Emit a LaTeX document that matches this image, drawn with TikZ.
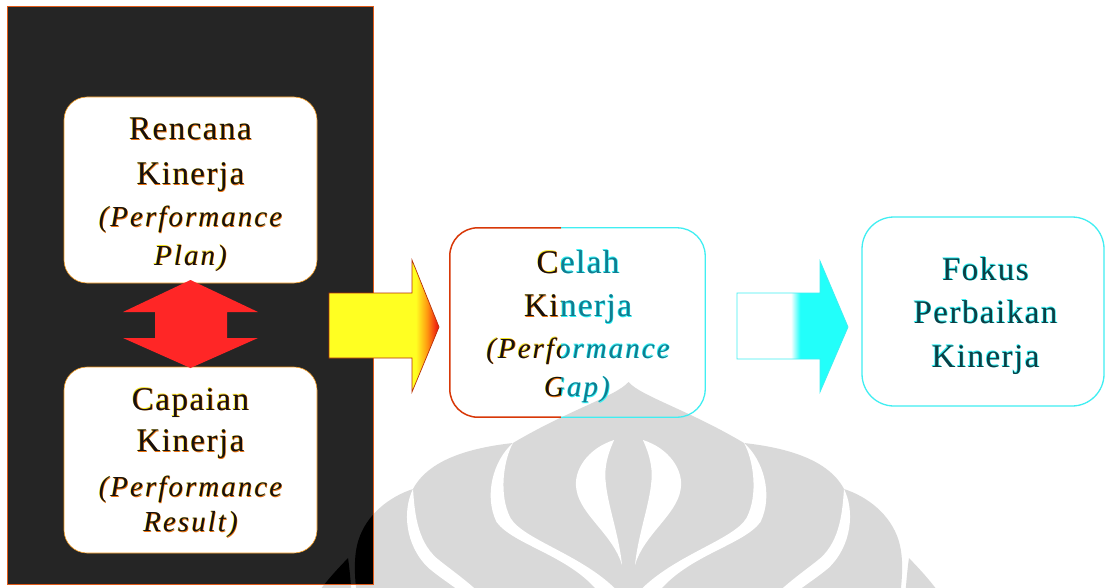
\documentclass[tikz,border=0pt]{standalone}
\usepackage{fontspec}
\setmainfont{Liberation Serif}
\newfontfamily\rmls[LetterSpace=4.5]{Liberation Serif}
\newfontfamily\itls[LetterSpace=7]{Liberation Serif}

% colours
\definecolor{panelgray}{HTML}{252525}
\definecolor{panelrim}{HTML}{E05A18}
\definecolor{boxrim}{HTML}{F0961A}
\definecolor{embgray}{HTML}{D9D9D9}
\definecolor{redarrow}{HTML}{FF2626}
\definecolor{ylw}{HTML}{FFFF22}
\definecolor{orng}{HTML}{FF9A10}
\definecolor{rd}{HTML}{F02010}
\definecolor{arrowrim}{HTML}{B83008}
\definecolor{cyn}{HTML}{22FFFA}
\definecolor{cynline}{HTML}{40EEF2}
\definecolor{warmline}{HTML}{D83808}
\definecolor{warmcore}{HTML}{161010}
\definecolor{glowy}{HTML}{F2E21A}
\definecolor{glowr}{HTML}{E8700C}
\definecolor{coolcore}{HTML}{0E3E44}
\definecolor{midcore}{HTML}{127C90}
\definecolor{glowc}{HTML}{2AF2F6}

% fills of the two block arrows
\pgfdeclarehorizontalshading{warmfade}{100bp}{color(0bp)=(ylw); color(64.5bp)=(ylw); color(69.5bp)=(orng); color(74bp)=(rd); color(100bp)=(rd)}
\pgfdeclarehorizontalshading{coolfade}{100bp}{color(0bp)=(white); color(49.3bp)=(white); color(53.4bp)=(cyn); color(100bp)=(cyn)}

% text with a two-coloured fringe behind it
\newcommand\halo[4]{%
  \setbox0\hbox{#4}%
  \rlap{\kern-#3\raise#3\hbox{\color{#1}#4}}%
  \rlap{\kern#3\lower#3\hbox{\color{#2}#4}}%
  \box0}
\newcommand\warm[1]{\halo{glowy}{glowr}{0.55pt}{#1}}
\newcommand\cool[1]{\halo{glowc}{glowc}{0.6pt}{#1}}

% the faint emblem in the background: #1 body colour, #2 gap colour
\newcommand\emblem[2]{%
  \begin{scope}[shift={(628.5,0)}]
    \fill[color=#1] (0,382) .. controls (-12,396) and (-60,410) .. (-115.5,443)
      .. controls (-160,448) and (-200,460) .. (-215.5,489)
      .. controls (-240,497) and (-262,515) .. (-270,540)
      .. controls (-275,556) and (-274,575) .. (-272,592)
      -- (272,592)
      .. controls (274,575) and (275,556) .. (270,540)
      .. controls (262,515) and (240,497) .. (215.5,489)
      .. controls (200,460) and (160,448) .. (115.5,443)
      .. controls (60,410) and (12,396) .. (0,382) -- cycle;
    \foreach \s in {1,-1}{
      \begin{scope}[xscale=\s]
        % outermost petal tips
        \fill[color=#1] (-280.5,558) .. controls (-288,566) and (-298,576) .. (-310,592)
          -- (-277,592) .. controls (-278,580) and (-279,568) .. (-280.5,558) -- cycle;
        % gap between bud and inner petal
        \fill[color=#2] (-115.5,443) .. controls (-135,460) and (-145,495) .. (-132,522)
          .. controls (-115,545) and (-60,555) .. (-30,592) -- (-10,592)
          .. controls (-45,555) and (-105,540) .. (-118,518)
          .. controls (-130,495) and (-125,460) .. (-115.5,443) -- cycle;
        % gap between inner and outer petal
        \fill[color=#2] (-215.5,489) .. controls (-226,510) and (-224,545) .. (-200,568)
          .. controls (-188,578) and (-178,584) .. (-168,592) -- (-150,592)
          .. controls (-165,578) and (-180,568) .. (-192,558)
          .. controls (-212,540) and (-214,510) .. (-215.5,489) -- cycle;
        % leaf-shaped slit inside the bud
        \fill[color=#2] (-14.4,440) .. controls (-40,448) and (-56,470) .. (-52,490)
          .. controls (-48,515) and (-15,535) .. (-6.5,565)
          .. controls (-10,530) and (-25,495) .. (-23,470)
          .. controls (-22,458) and (-18,448) .. (-14.4,440) -- cycle;
      \end{scope}
    }
  \end{scope}}

\tikzset{
  lbl/.style={inner sep=0pt, anchor=base},
  uprt/.style={font=\rmls\fontsize{33}{40}\selectfont},
  ital/.style={font=\itls\itshape\fontsize{29}{35}\selectfont},
  warmtext/.style={lbl, text=warmcore},
  cooltext/.style={lbl, text=coolcore},
  midtext/.style={lbl, text=midcore},
  panelbox/.style={draw=boxrim, line width=0.6pt, fill=white, rounded corners=23pt,
    minimum width=253pt, minimum height=186pt, inner sep=0pt},
}

\begin{document}
\begin{tikzpicture}[x=1pt, y=-1pt]
  \useasboundingbox (0,0) rectangle (1107,588);
  \fill[white] (0,0) rectangle (1107,588);

  % background emblem
  \emblem{embgray}{white}

  % dark panel, with the emblem showing through it
  \fill[panelgray] (7,6) rectangle (373,584);
  \begin{scope}
    \clip (7,6) rectangle (373,584);
    \emblem{black}{panelgray}
  \end{scope}
  \draw[panelrim, line width=0.7pt] (7,6) rectangle (373,584);

  % plan and result boxes
  \node[panelbox] (planbox) at (190.5,190) {};
  \node[panelbox] (resultbox) at (190.5,460) {};

  \node[warmtext, uprt] (plan1) at (190.5,140) {\warm{Rencana}};
  \node[warmtext, uprt] (plan2) at (190.5,185) {\warm{Kinerja}};
  \node[warmtext, ital] (plan3) at (190.5,226.7) {\warm{(Performance}};
  \node[warmtext, ital] (plan4) at (190.5,265) {\warm{Plan)}};

  \node[warmtext, uprt] (res1) at (190.5,410) {\warm{Capaian}};
  \node[warmtext, uprt] (res2) at (190.5,451.7) {\warm{Kinerja}};
  \node[warmtext, ital] (res3) at (190.5,496.7) {\warm{(Performance}};
  \node[warmtext, ital] (res4) at (190.5,531.7) {\warm{Result)}};

  % two-way arrow between plan and result
  \fill[redarrow] (190.5,280) -- (258,312) -- (227,312) -- (227,338) -- (258,338)
    -- (190.5,368) -- (123,338) -- (155,338) -- (155,312) -- (123,312) -- cycle;

  % arrow into the gap box
  \shade[shading=warmfade, draw=arrowrim, line width=0.7pt]
    (329,293) -- (412,293) -- (412,260) -- (439,327) -- (412,392) -- (412,358) -- (329,358) -- cycle;

  % gap box: warm left half, cool right half
  \node[minimum width=255pt, minimum height=189pt, inner sep=0pt] (gapbox) at (577.5,322.5) {};
  \begin{scope}
    \clip (0,0) rectangle (561,588);
    \draw[warmline, line width=1.5pt, rounded corners=28pt] (gapbox.south west) rectangle (gapbox.north east);
    \node[warmtext, uprt] (gapL1) at (578,273.3) {\warm{Celah}};
    \node[warmtext, uprt] (gapL2) at (578,316.7) {\warm{Kinerja}};
    \node[warmtext, ital] (gapL3) at (578,358.3) {\warm{(Performance}};
    \node[warmtext, ital] (gapL4) at (577,396.7) {\warm{Gap)}};
  \end{scope}
  \begin{scope}
    \clip (561,0) rectangle (1107,588);
    \draw[cynline, line width=1.3pt, rounded corners=28pt] (gapbox.south west) rectangle (gapbox.north east);
    \node[midtext, uprt] (gapR1) at (578,273.3) {\cool{Celah}};
    \node[midtext, uprt] (gapR2) at (578,316.7) {\cool{Kinerja}};
    \node[midtext, ital] (gapR3) at (578,358.3) {\cool{(Performance}};
    \node[midtext, ital] (gapR4) at (577,396.7) {\cool{Gap)}};
  \end{scope}

  % arrow into the focus box
  \shade[shading=coolfade, draw=cynline, line width=0.8pt]
    (737,293) -- (820,293) -- (820,261) -- (848,327) -- (820,392) -- (820,359) -- (737,359) -- cycle;

  % focus box
  \node[draw=cynline, line width=1.3pt, rounded corners=32pt, minimum width=242pt,
    minimum height=189pt, inner sep=0pt] (focusbox) at (983,311.5) {};
  \node[cooltext, uprt] (focus1) at (985.5,280) {\cool{Fokus}};
  \node[cooltext, uprt] (focus2) at (985.5,323.3) {\cool{Perbaikan}};
  \node[cooltext, uprt] (focus3) at (985.5,367) {\cool{Kinerja}};
\end{tikzpicture}
\end{document}
